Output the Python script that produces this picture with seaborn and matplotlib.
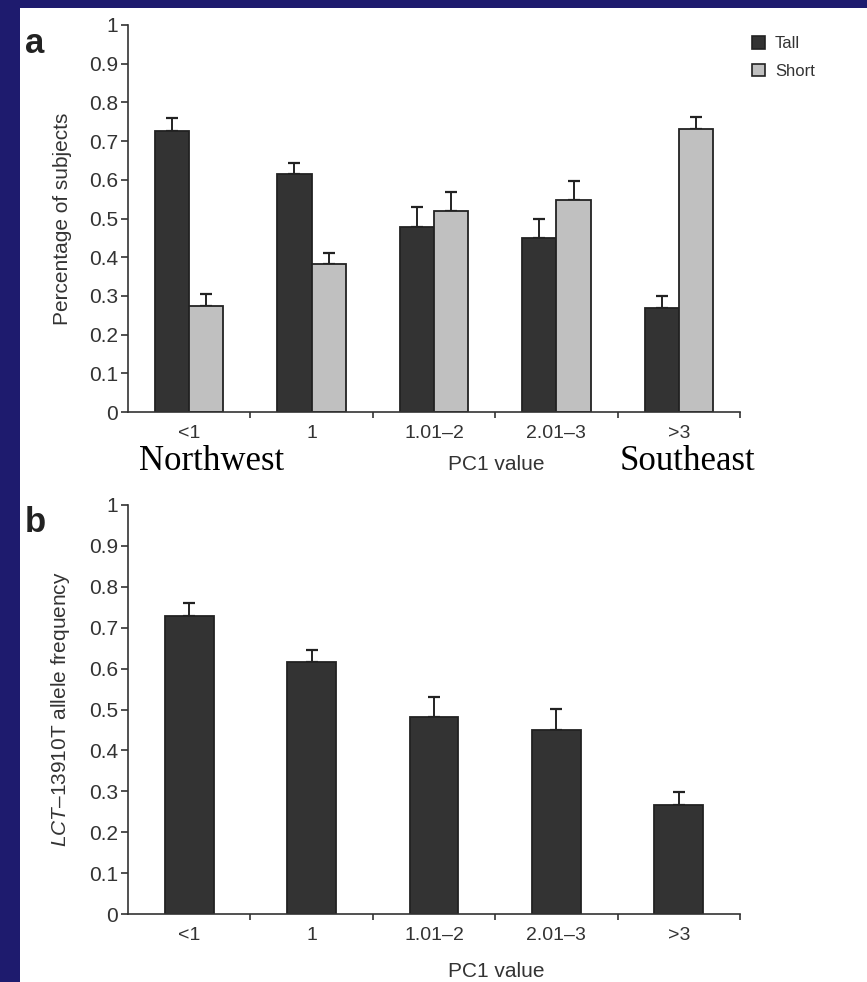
import matplotlib
matplotlib.use('Agg')

import numpy as np
import pandas as pd
import seaborn as sns
import matplotlib.pyplot as plt
from matplotlib.patches import Patch, Rectangle
from matplotlib.ticker import FixedLocator

# 数据
pc1_groups = ['<1', '1', '1.01–2', '2.01–3', '>3']
tall_vals = [0.726, 0.615, 0.479, 0.450, 0.268]
tall_err_top = [0.759, 0.643, 0.529, 0.500, 0.301]
short_vals = [0.273, 0.383, 0.519, 0.548, 0.731]
short_err_top = [0.304, 0.411, 0.568, 0.597, 0.763]
lct_vals = [0.728, 0.617, 0.481, 0.450, 0.267]
lct_err_top = [0.761, 0.645, 0.530, 0.502, 0.298]
y_ticks = [0, 0.1, 0.2, 0.3, 0.4, 0.5, 0.6, 0.7, 0.8, 0.9, 1]
y_ticklabels = ['0', '0.1', '0.2', '0.3', '0.4', '0.5', '0.6', '0.7', '0.8', '0.9', '1']

sns.set_style('ticks')
plt.rcParams['font.family'] = ['Liberation Sans', 'DejaVu Sans']
plt.rcParams['mathtext.fontset'] = 'custom'
plt.rcParams['mathtext.rm'] = 'Liberation Sans'
plt.rcParams['mathtext.it'] = 'Liberation Sans:italic'

DARK = '#333333'
LIGHT = '#c0c0c0'
EDGE = '#222222'
TXT = '#333333'
NAVY = '#1e1b6e'

W, H = 867, 982
fig = plt.figure(figsize=(W / 100, H / 100), dpi=100, facecolor='white')

# 深蓝色边框
fig.patches.append(Rectangle((0, 0), 20 / W, 1, transform=fig.transFigure,
                             facecolor=NAVY, edgecolor='none', zorder=-1))
fig.patches.append(Rectangle((0, 1 - 8 / H), 1, 8 / H, transform=fig.transFigure,
                             facecolor=NAVY, edgecolor='none', zorder=-1))

ax_a = fig.add_axes([128 / W, 1 - 412 / H, 612 / W, 387 / H])
ax_b = fig.add_axes([128 / W, 1 - 914 / H, 612 / W, 409 / H])


def add_errorbars(ax, container, tops):
    """只画向上的误差线"""
    for bar, top in zip(container, tops):
        xc = bar.get_x() + bar.get_width() / 2
        h = bar.get_height()
        ax.errorbar(xc, h, yerr=[[0], [top - h]], fmt='none', ecolor=EDGE,
                    elinewidth=1.4, capsize=4.5, capthick=1.6, zorder=1)


def style_axes(ax, ylabel):
    ax.set_xlim(-0.5, 4.5)
    ax.set_ylim(0, 1)
    ax.yaxis.set_major_locator(FixedLocator(y_ticks))
    ax.set_yticklabels(y_ticklabels)
    ax.xaxis.set_minor_locator(FixedLocator([0.5, 1.5, 2.5, 3.5, 4.5]))
    ax.tick_params(axis='x', which='major', length=0, pad=9, labelsize=14, labelcolor=TXT)
    ax.tick_params(axis='x', which='minor', length=4, width=1.2, color=TXT, direction='out')
    ax.tick_params(axis='y', which='major', length=5, width=1.2, color=TXT, pad=2,
                   labelsize=15, labelcolor=TXT)
    sns.despine(ax=ax)
    for side in ['left', 'bottom']:
        ax.spines[side].set_color(TXT)
        ax.spines[side].set_linewidth(1.2)
    ax.set_xlabel('PC1 value', fontsize=15, color=TXT)
    ax.set_ylabel(ylabel, fontsize=15, color=TXT)
    ax.yaxis.set_label_coords(-0.091, 0.5)


# ---- 面板 a ----
df_a = pd.DataFrame({
    'pc1': pc1_groups * 2,
    'height': ['Tall'] * len(pc1_groups) + ['Short'] * len(pc1_groups),
    'value': tall_vals + short_vals,
})
sns.barplot(data=df_a, x='pc1', y='value', hue='height', hue_order=['Tall', 'Short'],
            order=pc1_groups, palette={'Tall': DARK, 'Short': LIGHT}, width=0.56,
            errorbar=None, edgecolor=EDGE, linewidth=1.3, legend=False, ax=ax_a,
            zorder=2)
add_errorbars(ax_a, ax_a.containers[0], tall_err_top)
add_errorbars(ax_a, ax_a.containers[1], short_err_top)
style_axes(ax_a, 'Percentage of subjects')
ax_a.xaxis.set_label_coords(0.601, -0.111)

legend_handles = [
    Patch(facecolor=DARK, edgecolor=EDGE, linewidth=1.2, label='Tall'),
    Patch(facecolor=LIGHT, edgecolor=EDGE, linewidth=1.2, label='Short'),
]
fig.legend(handles=legend_handles, loc='upper left',
           bbox_to_anchor=(744 / W, 1 - 28 / H), frameon=False,
           fontsize=12, handlelength=0.75, handleheight=0.75,
           handletextpad=0.6, labelspacing=0.75, borderpad=0, labelcolor=TXT)

fig.text(212 / W, 1 - 470 / H, 'Northwest', family=['Liberation Serif'],
         fontsize=25, ha='center', va='baseline', color='black')
fig.text(688 / W, 1 - 470 / H, 'Southeast', family=['Liberation Serif'],
         fontsize=25, ha='center', va='baseline', color='black')

# ---- 面板 b ----
df_b = pd.DataFrame({'pc1': pc1_groups, 'value': lct_vals})
sns.barplot(data=df_b, x='pc1', y='value', order=pc1_groups, color=DARK,
            saturation=1, width=0.4, errorbar=None, edgecolor=EDGE, linewidth=1.3,
            ax=ax_b, zorder=2)
add_errorbars(ax_b, ax_b.containers[0], lct_err_top)
style_axes(ax_b, r'$\it{LCT}$–13910T allele frequency')
ax_b.xaxis.set_label_coords(0.601, -0.117)

# 面板标签
fig.text(25 / W, 1 - 53 / H, 'a', fontsize=25, fontweight='bold', va='baseline',
         ha='left', color='#222222')
fig.text(25 / W, 1 - 532 / H, 'b', fontsize=25, fontweight='bold', va='baseline',
         ha='left', color='#222222')

fig.savefig('out.png', dpi=100, facecolor=fig.get_facecolor())
